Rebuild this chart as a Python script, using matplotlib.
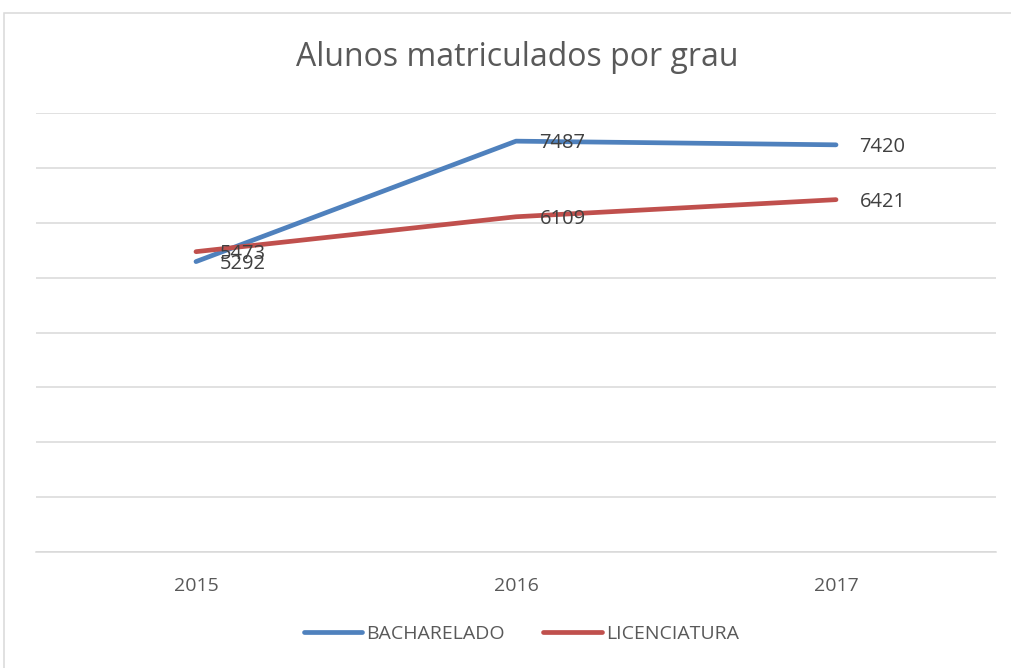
import matplotlib.pyplot as plt
from matplotlib.patches import Rectangle

# data
anos = ["2015", "2016", "2017"]
bacharelado = [5292, 7487, 7420]
licenciatura = [5473, 6109, 6421]

azul = "#4F81BD"
vermelho = "#C0504D"
texto = "#404040"

plt.rcParams['font.family'] = ['Open Sans', 'DejaVu Sans']

fig = plt.figure(figsize=(10.12, 6.68), dpi=100)
ax = fig.add_axes([36/1012, 1 - 552/668, 960/1012, (552 - 113)/668])

x = list(range(len(anos)))
ax.plot(x, bacharelado, color=azul, lw=3.4, solid_capstyle='round', label="BACHARELADO", zorder=3)
ax.plot(x, licenciatura, color=vermelho, lw=3.4, solid_capstyle='round', label="LICENCIATURA", zorder=3)

# data labels to the right of each point
for serie in (bacharelado, licenciatura):
    for i, v in enumerate(serie):
        ax.annotate(str(v), (i, v), xytext=(17, -1.5), textcoords='offset points',
                    ha='left', va='center', fontsize=14.5, color=texto, zorder=4)

ax.set_xlim(-0.5, 2.5)
ax.set_ylim(0, 8000)
ax.set_yticks(range(0, 8001, 1000))
ax.yaxis.grid(True, color="#D9D9D9", lw=1.1)
ax.set_axisbelow(True)
ax.tick_params(axis='y', left=False, labelleft=False)
ax.set_xticks(x)
ax.set_xticklabels(anos, fontsize=14, color="#595959")
ax.tick_params(axis='x', length=0, pad=18)
for s in ['top', 'left', 'right']:
    ax.spines[s].set_visible(False)
ax.spines['bottom'].set_color("#D9D9D9")
ax.spines['bottom'].set_linewidth(1.1)

fig.text(0.511, 1 - 58/668, "Alunos matriculados por grau", ha='center', va='center',
         fontsize=23, color="#595959")

fig.legend(loc='center', bbox_to_anchor=(0.515, 1 - 634/668), ncol=2, frameon=False,
           fontsize=14, handlelength=3, columnspacing=2.0, handletextpad=0.2,
           labelcolor="#595959")

# chart border
fig.patches.append(Rectangle((4/1012, -0.01), 1.0, 1 - 13/668 + 0.01, transform=fig.transFigure,
                             fill=False, edgecolor="#D9D9D9", lw=1.1))

fig.savefig("out.png", dpi=100)
